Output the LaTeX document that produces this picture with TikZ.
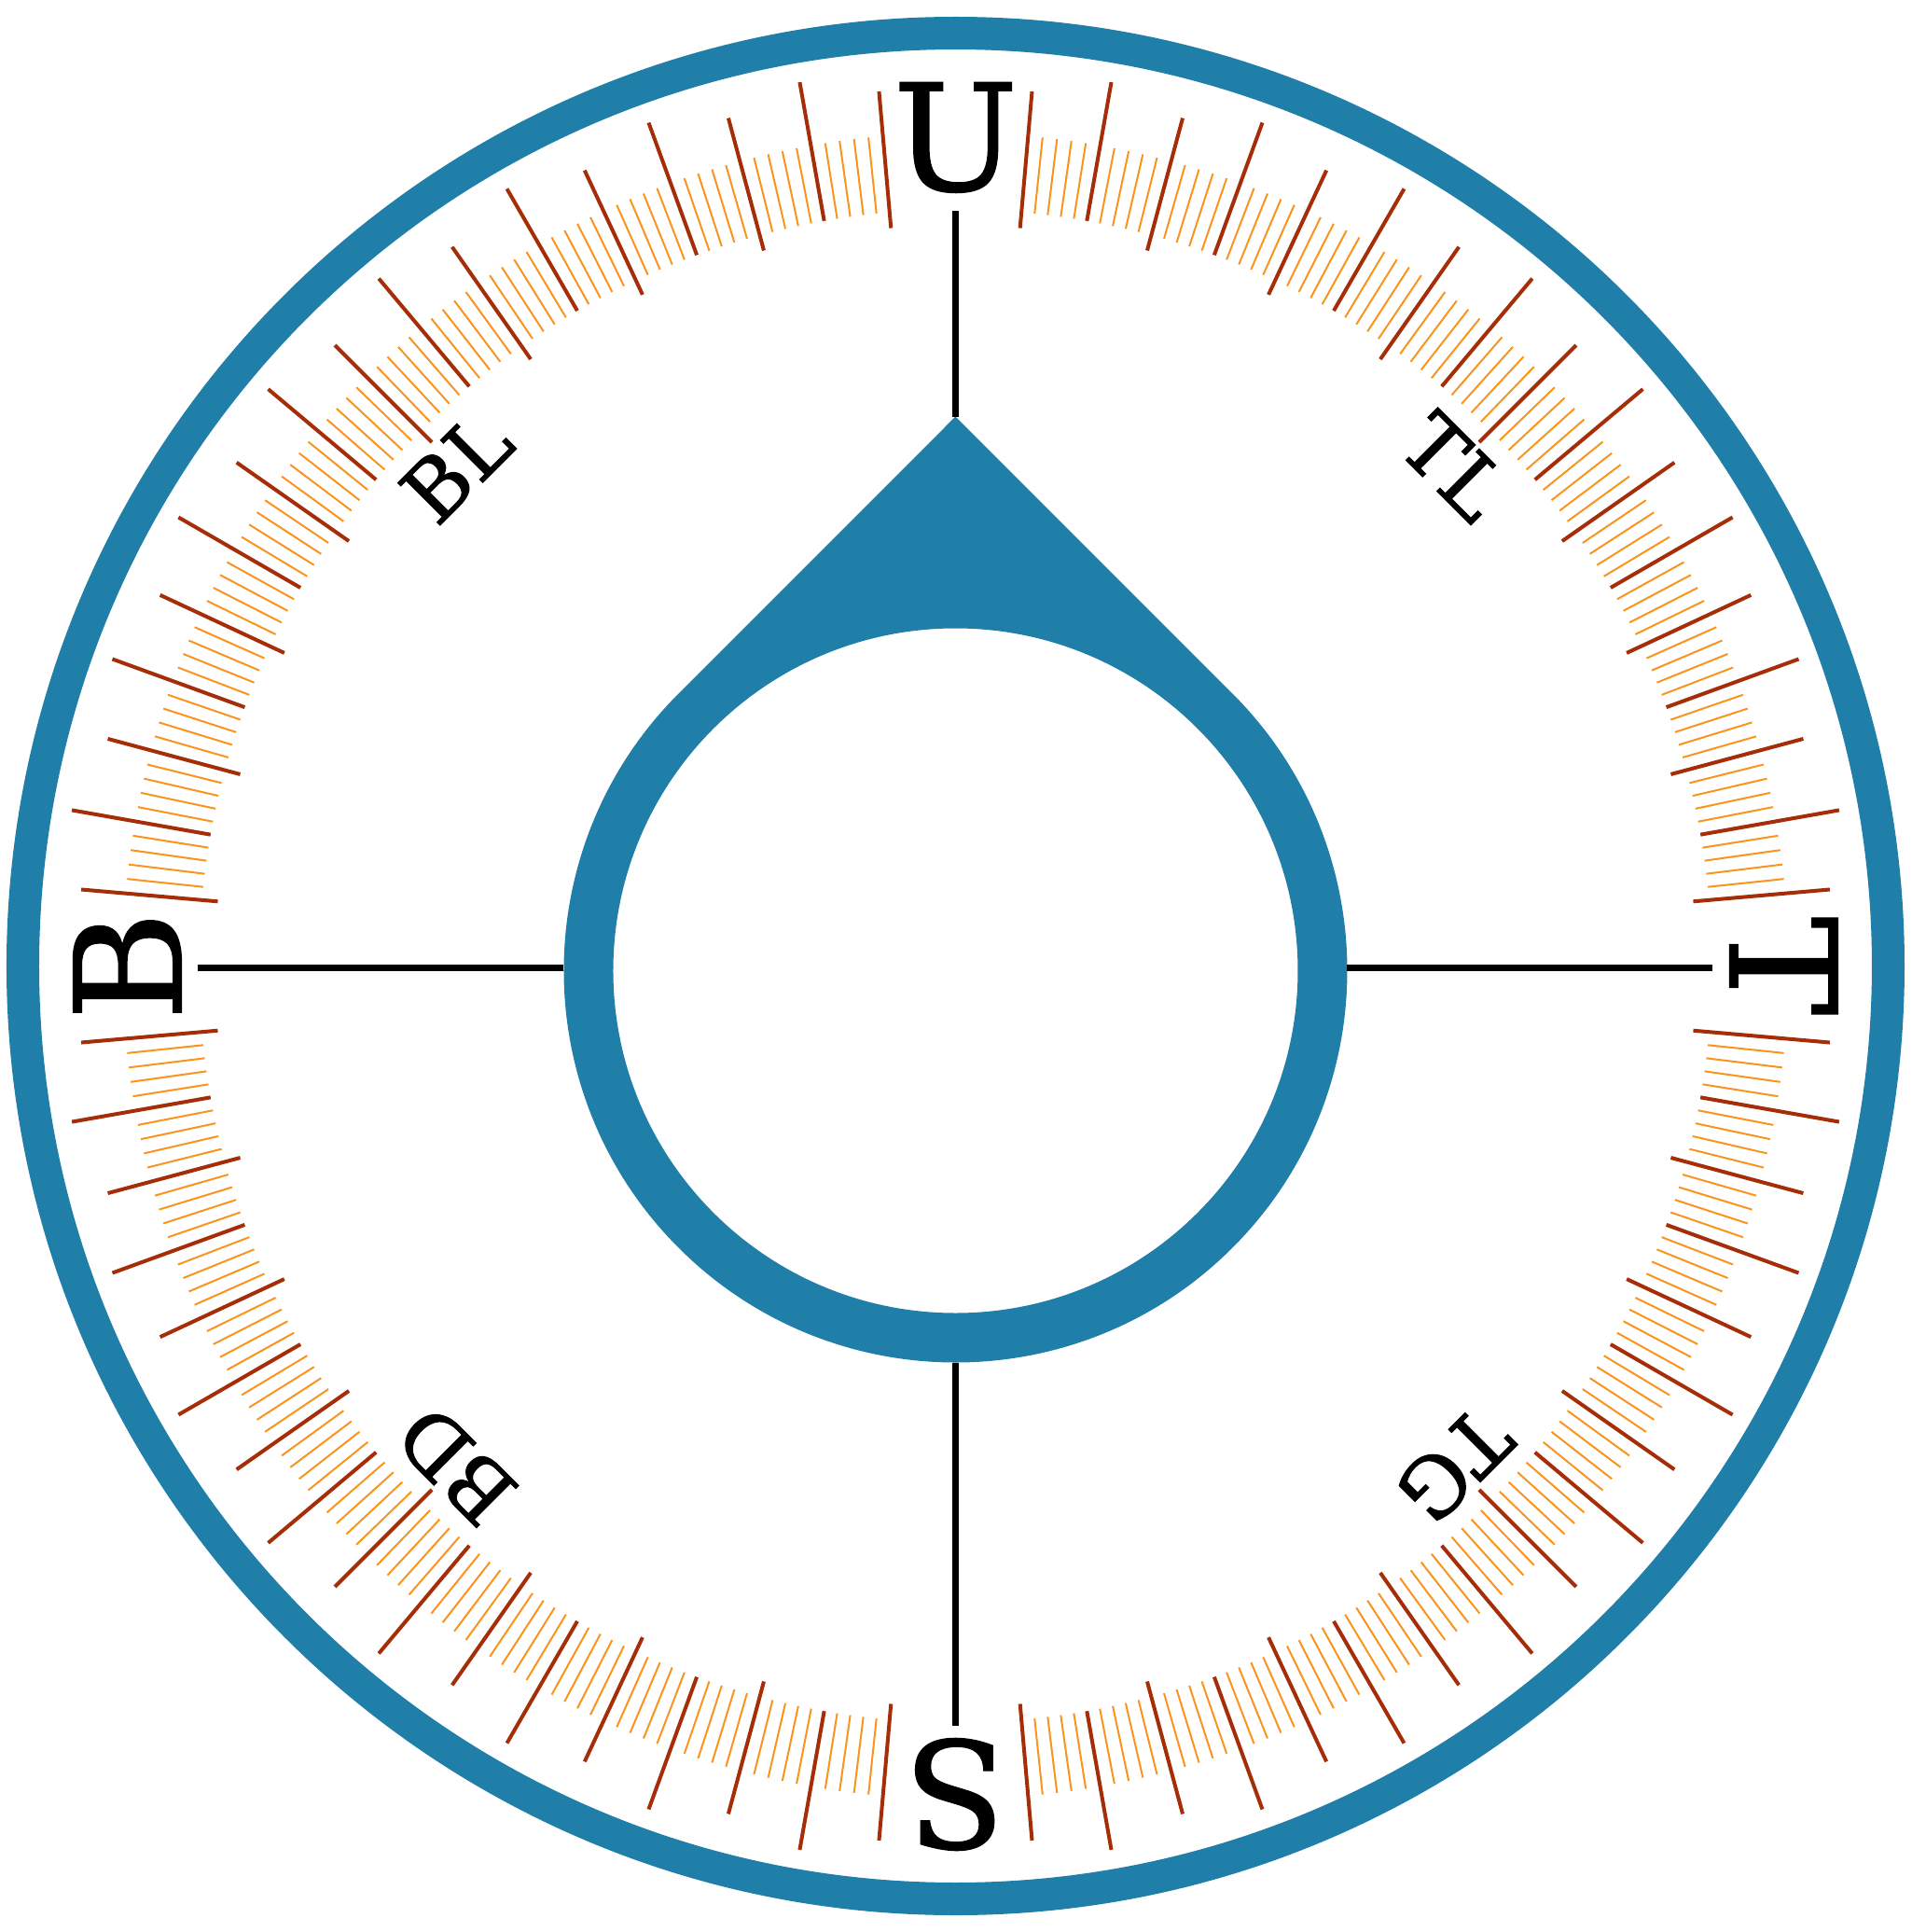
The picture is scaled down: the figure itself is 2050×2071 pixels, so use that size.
\documentclass[tikz,border=0pt]{standalone}
\usepackage{fontspec}
\newfontfamily\lblfont[FakeBold=1.2]{DejaVu Serif}
\definecolor{ringblue}{RGB}{31,127,168}
\definecolor{majred}{RGB}{165,45,8}
\definecolor{minorange}{RGB}{250,148,30}
\begin{document}
\begin{tikzpicture}[x=0.01cm,y=0.01cm,
  majortick/.style={draw=majred,line width=0.04cm},
  minortick/.style={draw=minorange,line width=0.02cm},
  axisline/.style={draw=black,line width=0.065cm},
  biglbl/.style={inner sep=0pt,font=\lblfont\fontsize{45}{52}\selectfont},
  smalllbl/.style={inner sep=0pt,font=\lblfont\fontsize{25}{30}\selectfont}]
\useasboundingbox (-1024.5,-1035.5) rectangle (1025.5,1035.5);
% outer ring
\draw[ringblue,line width=0.35cm] (0,0) circle[radius=1000];
% drop-shaped pointer
\fill[ringblue,even odd rule] (0,589) -- (-296.98,291.98)
  arc[start angle=135,end angle=405,radius=420] -- cycle
  (0,-5) circle[radius=367];
% axis lines
\coordinate (tipN) at (0,589);
\coordinate (endN) at (0,810);
\coordinate (dropW) at (-420,-2);
\coordinate (endW) at (-812,-2);
\coordinate (dropE) at (420,-2);
\coordinate (endE) at (812,-2);
\coordinate (dropS) at (0,-425);
\coordinate (endS) at (0,-814);
\draw[axisline] (tipN) -- (endN);
\draw[axisline] (dropW) -- (endW);
\draw[axisline] (dropE) -- (endE);
\draw[axisline] (dropS) -- (endS);
% ticks
\foreach \a in {0,...,359}{
  \pgfmathtruncatemacro\mq{mod(\a,90)}
  \pgfmathtruncatemacro\mten{mod(\a,10)}
  \pgfmathtruncatemacro\mfive{mod(\a,5)}
  \ifnum\mq<5 \else\ifnum\mq>85 \else
    \ifnum\mten=0
      \draw[majortick] (\a:811) -- (\a:962);
    \else\ifnum\mfive=0
      \draw[majortick] (\a:794) -- (\a:941);
    \else
      \draw[minortick] (\a:811) -- (\a:893);
    \fi\fi
  \fi\fi
}
% labels
\node[biglbl,rotate=0]   (lblU) at (90:888)  {U};
\node[biglbl,rotate=-90] (lblT) at (0:888)   {T};
\node[biglbl,rotate=180] (lblS) at (270:888) {S};
\node[biglbl,rotate=90]  (lblB) at (180:888) {B};
\node[smalllbl,rotate=45]  (lblBL) at (135:757) {BL};
\node[smalllbl,rotate=-45] (lblTL) at (45:757)  {TL};
\node[smalllbl,rotate=135] (lblBD) at (225:757) {BD};
\node[smalllbl,rotate=225] (lblTG) at (315:757) {TG};
\end{tikzpicture}
\end{document}
